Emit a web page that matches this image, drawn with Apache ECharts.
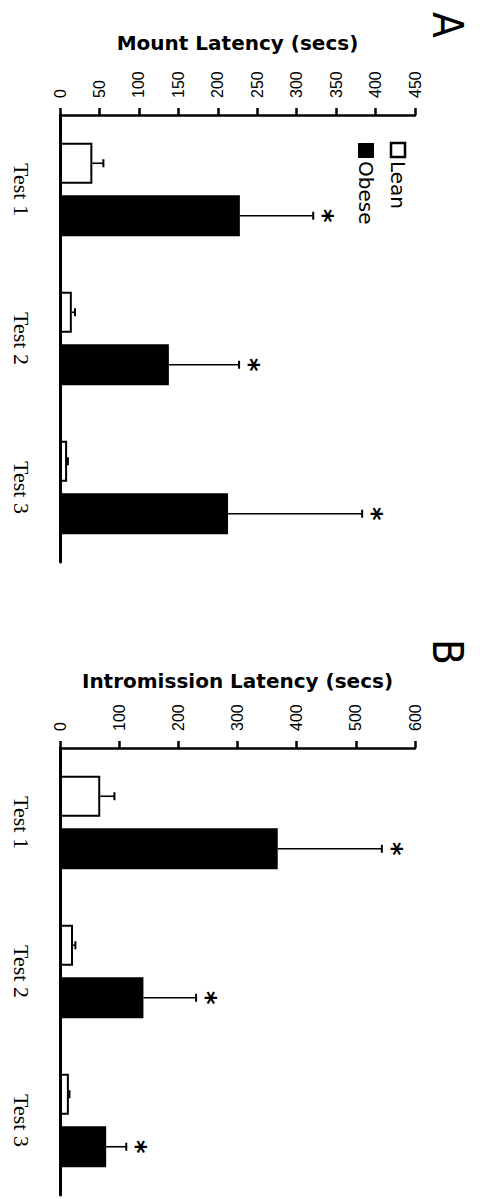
<!DOCTYPE html>
<html>
<head>
<meta charset="utf-8">
<script src="https://cdn.jsdelivr.net/npm/echarts@6/dist/echarts.min.js"></script>
<style>
html,body{margin:0;padding:0;background:#fff;}
#c{width:484px;height:1199px;}
</style>
</head>
<body>
<div id="c"></div>
<script>
// ---- data ----
var categories = ['Test 1', 'Test 2', 'Test 3'];
var seriesNames = ['Lean', 'Obese'];
var mountTicks = [0, 450, 50];          // min, max, interval
var intromTicks = [0, 600, 100];
var mountLean = [41, 15, 9];
var mountLeanErr = [14, 4, 1];
var mountObese = [228, 138, 213];
var mountObeseErr = [93, 89, 170];
var intromLean = [68, 22, 15];
var intromLeanErr = [24, 4, 1];
var intromObese = [368, 141, 78];
var intromObeseErr = [176, 89, 34];
var obeseSignificant = [1, 1, 1];

// ---- styling constants ----
var BAR_W = 41, BAR_GAP_PX = 11.5;
var OFFSET = (BAR_W + BAR_GAP_PX) / 2;
var CAP = 4;

var chart = echarts.init(document.getElementById('c'), null, {renderer: 'svg'});

function errData(lean, leanErr, obese, obeseErr) {
  var out = [];
  for (var i = 0; i < categories.length; i++) {
    out.push([lean[i], i, leanErr[i], -1, 0]);
    out.push([obese[i], i, obeseErr[i], 1, obeseSignificant[i]]);
  }
  return out;
}

function errRender(params, api) {
  var v = api.value(0), idx = api.value(1), e = api.value(2), side = api.value(3), star = api.value(4);
  var p0 = api.coord([v, idx]);
  var p1 = api.coord([v + e, idx]);
  var y = p0[1] + side * OFFSET;
  var ch = [
    {type: 'line', shape: {x1: p0[0], y1: y, x2: p1[0], y2: y}, style: {stroke: '#000', lineWidth: 1.6}},
    {type: 'line', shape: {x1: p1[0], y1: y - CAP, x2: p1[0], y2: y + CAP}, style: {stroke: '#000', lineWidth: 2}}
  ];
  if (star) {
    ch.push({type: 'text', x: p1[0] + 10, y: y, rotation: -Math.PI / 2,
      style: {text: '*', fill: '#000', fontSize: 26, fontWeight: 'bold', fontFamily: 'DejaVu Sans', align: 'center', verticalAlign: 'middle'}});
  }
  return {type: 'group', children: ch};
}

function valueAxis(grid, ticks, name, gap) {
  return {
    gridIndex: grid, type: 'value', position: 'top',
    min: ticks[0], max: ticks[1], interval: ticks[2],
    axisLine: {show: true, lineStyle: {color: '#000', width: 2.5}},
    axisTick: {show: true, length: 7, lineStyle: {color: '#000', width: 2.5}},
    axisLabel: {rotate: -90, margin: 17, fontSize: 16, color: '#000', fontFamily: 'Liberation Sans'},
    splitLine: {show: false},
    name: name, nameLocation: 'middle', nameGap: gap,
    nameTextStyle: {fontWeight: 'bold', fontSize: 20, fontFamily: 'DejaVu Sans', color: '#000'}
  };
}
function catAxis(grid) {
  return {
    gridIndex: grid, type: 'category', data: categories, inverse: true,
    axisLine: {show: true, lineStyle: {color: '#000', width: 3}},
    axisTick: {show: false},
    axisLabel: {rotate: -90, margin: 28, fontSize: 22, color: '#000', fontFamily: 'Liberation Serif'}
  };
}
function barSeries(idx, name, data, fill) {
  return {
    type: 'bar', name: name, xAxisIndex: idx, yAxisIndex: idx, data: data,
    barWidth: BAR_W, barGap: (BAR_GAP_PX / BAR_W * 100) + '%',
    itemStyle: {color: fill, borderColor: '#000', borderWidth: 2},
    silent: true, animation: false
  };
}

var option = {
  backgroundColor: '#fff',
  animation: false,
  grid: [
    {left: 60, top: 115, width: 355, height: 447},
    {left: 60, top: 748, width: 355, height: 447}
  ],
  xAxis: [
    valueAxis(0, mountTicks, 'Mount Latency (secs)', 62),
    valueAxis(1, intromTicks, 'Intromission Latency (secs)', 57)
  ],
  yAxis: [catAxis(0), catAxis(1)],
  series: [
    barSeries(0, seriesNames[0], mountLean, '#fff'),
    barSeries(0, seriesNames[1], mountObese, '#000'),
    barSeries(1, seriesNames[0], intromLean, '#fff'),
    barSeries(1, seriesNames[1], intromObese, '#000'),
    {type: 'custom', xAxisIndex: 0, yAxisIndex: 0, renderItem: errRender, encode: {x: 0, y: 1},
     data: errData(mountLean, mountLeanErr, mountObese, mountObeseErr), z: 5, silent: true},
    {type: 'custom', xAxisIndex: 1, yAxisIndex: 1, renderItem: errRender, encode: {x: 0, y: 1},
     data: errData(intromLean, intromLeanErr, intromObese, intromObeseErr), z: 5, silent: true}
  ],
  graphic: [
    {type: 'text', x: 447, y: 25, rotation: -Math.PI / 2,
     style: {text: 'A', fontSize: 42, fontFamily: 'DejaVu Sans Condensed', fill: '#000', align: 'center', verticalAlign: 'middle'}},
    {type: 'text', x: 447, y: 652, rotation: -Math.PI / 2,
     style: {text: 'B', fontSize: 42, fontFamily: 'DejaVu Sans Condensed', fill: '#000', align: 'center', verticalAlign: 'middle'}},
    {type: 'rect', shape: {x: 391, y: 143, width: 14, height: 14}, style: {fill: '#fff', stroke: '#000', lineWidth: 2.5}},
    {type: 'text', x: 398, y: 161, rotation: -Math.PI / 2,
     style: {text: seriesNames[0], fontSize: 20, fontFamily: 'DejaVu Sans', fill: '#000', align: 'left', verticalAlign: 'middle'}},
    {type: 'rect', shape: {x: 358, y: 143, width: 16, height: 15}, style: {fill: '#000'}},
    {type: 'text', x: 366, y: 161, rotation: -Math.PI / 2,
     style: {text: seriesNames[1], fontSize: 20, fontFamily: 'DejaVu Sans', fill: '#000', align: 'left', verticalAlign: 'middle'}}
  ]
};
chart.setOption(option);
</script>
</body>
</html>
